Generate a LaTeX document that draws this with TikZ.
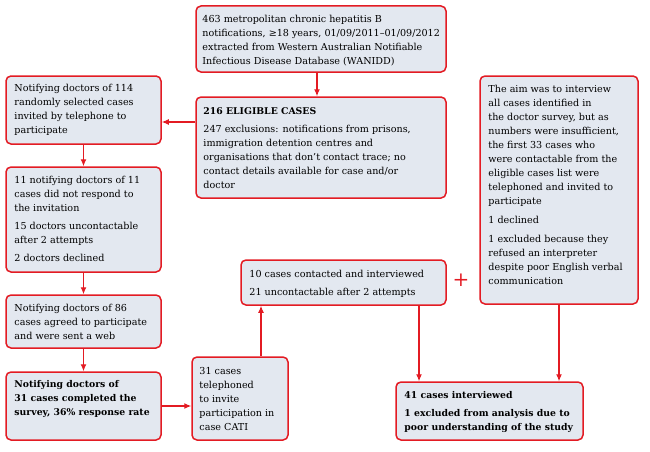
\documentclass[tikz,border=0pt]{standalone}
\usepackage{fontspec}
\setmainfont{DejaVu Serif}
\usetikzlibrary{arrows.meta}
\definecolor{bred}{HTML}{E31B23}
\definecolor{bfill}{HTML}{E3E8F0}
\tikzset{
  box/.style={draw=bred, fill=bfill, line width=1.5pt, rounded corners=5pt, inner sep=0pt},
  txt/.style={anchor=north west, inner sep=0pt, align=left, font=\fontsize{9.6}{14}\selectfont},
  btxt/.style={txt, font=\fontsize{9.3}{14}\selectfont\bfseries},
  arr/.style={draw=bred, line width=1.1pt, -{Latex[length=7pt,width=6pt]}},
}
\begin{document}
\begin{tikzpicture}[x=1pt,y=1pt]
\useasboundingbox (0,0) rectangle (650,451);
% boxes
\node[box, minimum width=250pt, minimum height=66pt] (A) at (321,412) {};
\node[box, minimum width=250pt, minimum height=101pt] (B) at (321,303.5) {};
\node[box, minimum width=155pt, minimum height=68pt] (C) at (83.5,341) {};
\node[box, minimum width=155pt, minimum height=105pt] (D) at (83.5,231.5) {};
\node[box, minimum width=155pt, minimum height=53pt] (E) at (83.5,129.5) {};
\node[box, minimum width=155pt, minimum height=68pt] (F) at (83.5,45) {};
\node[box, minimum width=96pt, minimum height=83pt] (G) at (240,52.5) {};
\node[box, minimum width=205pt, minimum height=45pt] (H) at (343.5,168.5) {};
\node[box, minimum width=158pt, minimum height=228pt] (I) at (559,261) {};
\node[box, minimum width=187pt, minimum height=58pt] (J) at (489.5,40) {};
% texts
\node[txt] (tA) at ([shift={(7pt,-7.7pt)}]A.north west) {\strut 463 metropolitan chronic hepatitis B\\notifications, ≥18 years, 01/09/2011–01/09/2012\\extracted from Western Australian Notifiable\\Infectious Disease Database (WANIDD)};
\node[txt] (tB) at ([shift={(8pt,-8.7pt)}]B.north west) {\strut\textbf{\fontsize{9.3}{14}\selectfont 216 ELIGIBLE CASES}\\[4pt]247 exclusions: notifications from prisons,\\immigration detention centres and\\organisations that don't contact trace; no\\contact details available for case and/or\\doctor};
\node[txt] (tC) at ([shift={(9pt,-6.7pt)}]C.north west) {\strut Notifying doctors of 114\\randomly selected cases\\invited by telephone to\\participate};
\node[txt] (tD) at ([shift={(9pt,-7.7pt)}]D.north west) {\strut 11 notifying doctors of 11\\cases did not respond to\\the invitation\\[4pt]15 doctors uncontactable\\after 2 attempts\\[4pt]2 doctors declined};
\node[txt] (tE) at ([shift={(9pt,-7.7pt)}]E.north west) {\strut Notifying doctors of 86\\cases agreed to participate\\and were sent a web};
\node[btxt] (tF) at ([shift={(9pt,-6.7pt)}]F.north west) {\strut Notifying doctors of\\31 cases completed the\\survey, 36\% response rate};
\node[txt] (tG) at ([shift={(8pt,-8.7pt)}]G.north west) {\strut 31 cases\\telephoned\\to invite\\participation in\\case CATI};
\node[txt] (tH) at ([shift={(9pt,-8.7pt)}]H.north west) {\strut 10 cases contacted and interviewed\\[4pt]21 uncontactable after 2 attempts};
\node[txt] (tI) at ([shift={(9pt,-7.7pt)}]I.north west) {\strut The aim was to interview\\all cases identified in\\the doctor survey, but as\\numbers were insufficient,\\the first 33 cases who\\were contactable from the\\eligible cases list were\\telephoned and invited to\\participate\\[5pt]1 declined\\[5pt]1 excluded because they\\refused an interpreter\\despite poor English verbal\\communication};
\node[btxt] (tJ) at ([shift={(9pt,-7.7pt)}]J.north west) {\strut 41 cases interviewed\\[4pt]1 excluded from analysis due to\\poor understanding of the study};
\node[text=bred, font=\fontsize{20}{20}\selectfont, inner sep=0pt] (plus) at (461,171) {+};
% connectors
\draw[arr] ([xshift=-4pt]A.south) -- ([xshift=-4pt]B.north);
\draw[arr] ([yshift=25.5pt]B.west) -- ([yshift=25.5pt]B.west -| C.east);
\draw[arr] (C.south) -- (D.north);
\draw[arr] (D.south) -- (E.north);
\draw[arr] (E.south) -- (F.north);
\draw[arr] (F.east) -- (F.east -| G.west);
\draw[arr] ([xshift=21pt]G.north) -- ([xshift=21pt]G.north |- H.south);
\draw[arr] ([xshift=75.5pt]H.south) -- ([xshift=75.5pt]H.south |- J.north);
\draw[arr] (I.south) -- (I.south |- J.north);
\end{tikzpicture}
\end{document}
